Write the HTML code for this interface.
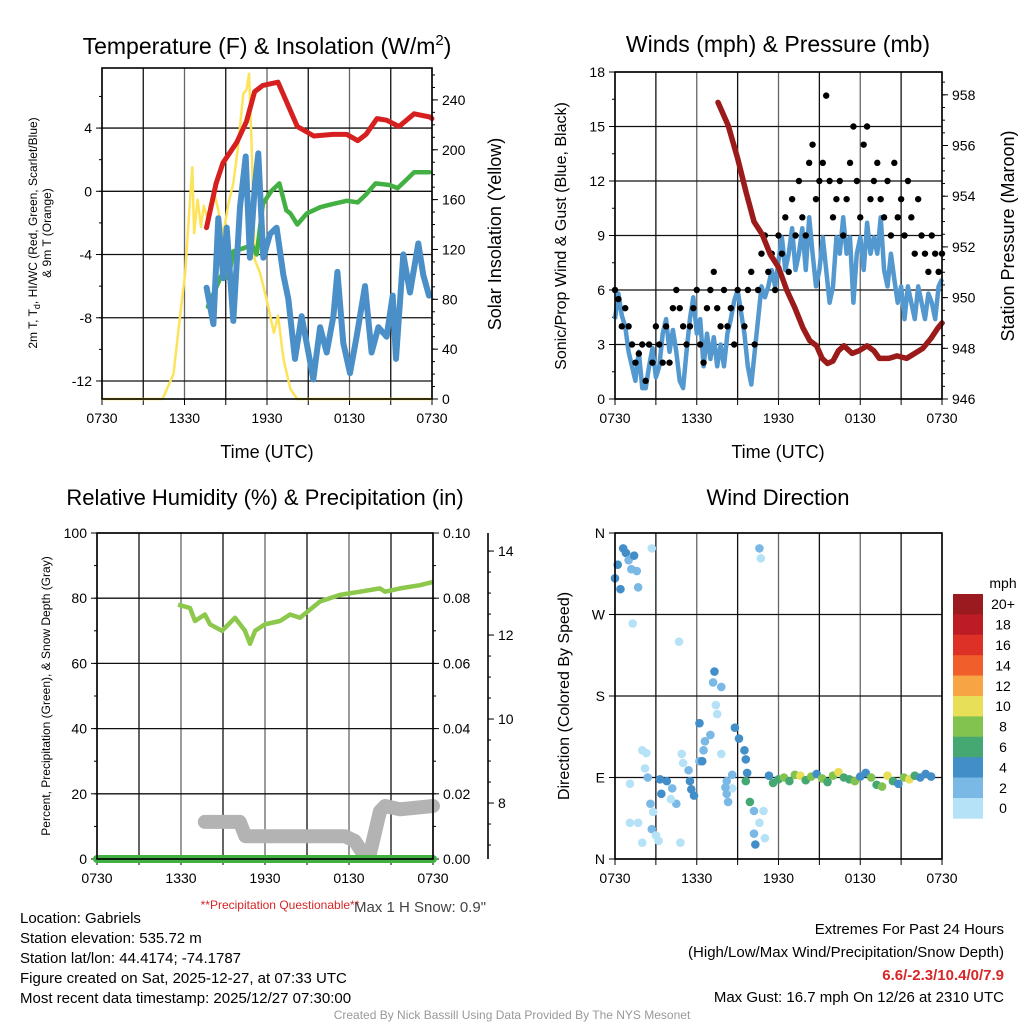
<!DOCTYPE html>
<html><head><meta charset="utf-8">
<style>
html,body{margin:0;padding:0;background:#fff;overflow:hidden;}
svg{display:block;font-family:"Liberation Sans",Arial,sans-serif;}
</style></head>
<body>
<svg id="chart" width="1024" height="1024" viewBox="0 0 1024 1024" xmlns="http://www.w3.org/2000/svg">
<rect x="0" y="0" width="1024" height="1024" fill="#fff"/>
<text x="267" y="54" font-size="23" text-anchor="middle">Temperature (F) &amp; Insolation (W/m<tspan dy="-9" font-size="15">2</tspan><tspan dy="9">)</tspan></text>
<text x="778" y="52" font-size="23" text-anchor="middle">Winds (mph) &amp; Pressure (mb)</text>
<text x="265" y="505" font-size="22" text-anchor="middle">Relative Humidity (%) &amp; Precipitation (in)</text>
<text x="778" y="505" font-size="22" text-anchor="middle">Wind Direction</text>

<text x="267" y="458" font-size="18" text-anchor="middle">Time (UTC)</text>
<text x="778" y="458" font-size="18" text-anchor="middle">Time (UTC)</text>
<text transform="translate(37,233) rotate(-90)" font-size="12" text-anchor="middle">2m T, T<tspan dy="3" font-size="9">d</tspan><tspan dy="-3">, HI/WC (Red, Green, Scarlet/Blue)</tspan></text>
<text transform="translate(51,233) rotate(-90)" font-size="12" text-anchor="middle">&amp; 9m T (Orange)</text>
<text transform="translate(501,234) rotate(-90)" font-size="18" text-anchor="middle">Solar Insolation (Yellow)</text>
<text transform="translate(566,236) rotate(-90)" font-size="16" text-anchor="middle">Sonic/Prop Wind &amp; Gust (Blue, Black)</text>
<text transform="translate(1014,236) rotate(-90)" font-size="18" text-anchor="middle">Station Pressure (Maroon)</text>
<text transform="translate(50,696) rotate(-90)" font-size="12" text-anchor="middle">Percent, Precipitation (Green), &amp; Snow Depth (Gray)</text>
<text transform="translate(569,696) rotate(-90)" font-size="16" text-anchor="middle">Direction (Colored By Speed)</text>

<g id="layers"></g>

<text x="280" y="909" font-size="12" fill="#d62728" text-anchor="middle">**Precipitation Questionable**</text>
<text x="420" y="912" font-size="15" fill="#444" text-anchor="middle">Max 1 H Snow: 0.9"</text>
<g font-size="15">
<text x="20" y="923">Location: Gabriels</text>
<text x="20" y="943">Station elevation: 535.72 m</text>
<text x="20" y="963">Station lat/lon: 44.4174; -74.1787</text>
<text x="20" y="983">Figure created on Sat, 2025-12-27, at 07:33 UTC</text>
<text x="20" y="1003">Most recent data timestamp: 2025/12/27 07:30:00</text>
</g>
<g font-size="15" text-anchor="end">
<text x="1004" y="934">Extremes For Past 24 Hours</text>
<text x="1004" y="957">(High/Low/Max Wind/Precipitation/Snow Depth)</text>
<text x="1004" y="980" fill="#d62728" font-weight="bold">6.6/-2.3/10.4/0/7.9</text>
<text x="1004" y="1002">Max Gust: 16.7 mph On 12/26 at 2310 UTC</text>
</g>
<text x="512" y="1019" font-size="12" fill="#999" text-anchor="middle">Created By Nick Bassill Using Data Provided By The NYS Mesonet</text>
</svg>
<script>
const xTickLabels = ["0730","1330","1930","0130","0730"];
const redT = [7.6,8.3,8.8,9.8,10.5,11.1,11.7,12.8,13.4,14.2,15.4,16.8,17.8,18.6,19.2,20.0,20.7,21.6,22.7,23.85,24];
const redV = [-2.3,0.5,1.8,3.1,4.4,6.3,6.7,6.9,5.7,4.1,3.5,3.6,3.6,3.2,3.6,4.6,4.5,4.1,4.9,4.7,4.6];
const greenT = [7.7,8.3,8.8,9.2,9.55,10.3,10.9,11.25,11.7,12.3,12.9,13.4,13.7,14.2,14.9,15.9,16.8,17.8,18.6,19.2,19.9,20.9,21.5,22.1,22.7,23.8];
const greenV = [-7.3,-6.1,-5.1,-5.5,-3.8,-3.6,-3.4,-4,-0.8,0,0.5,-1.2,-1.4,-2.1,-1.4,-1,-0.8,-0.6,-0.7,-0.2,0.5,0.4,0.2,0.7,1.2,1.2];
const blueT = [7.61,8.10,8.46,8.82,9.07,9.55,10.04,10.45,10.76,11.13,11.37,11.73,12.22,12.70,13.19,13.55,14.04,14.52,15.01,15.37,15.86,16.34,16.83,17.12,17.55,18.04,18.52,19.13,19.61,20.10,20.70,21.14,21.38,21.91,22.40,23.00,23.37,23.78];
const blueV = [-6.1,-8.4,-1.7,-5.5,-2.3,-8.2,-1,2.2,-4.2,0.5,2.4,-4.2,-2.7,-2.3,-5.3,-6.8,-10.6,-7.9,-10.2,-11.9,-8.6,-10.2,-7.9,-5.1,-9.6,-11.5,-9.2,-6,-10.2,-8.6,-9.2,-6.6,-10.6,-4,-6.4,-3.3,-5.3,-6.6];
const solarT = [0,4.4,4.6,5.2,5.7,6.05,6.4,6.57,6.7,6.95,7.2,7.4,7.7,8.1,8.45,8.8,9.2,9.55,9.9,10.28,10.5,10.7,10.9,11.1,11.5,11.97,12.5,12.8,13.2,13.7,14.2,24];
const solarV = [0,0,5,20,69,101,160,186,133,160,138,155,144,168,152,131,157,173,203,245,248,261,197,112,101,80,53,67,32,8,0,0];
const windV = [4.4,5.8,4.6,4.0,2.6,1.8,1.0,2.6,0.6,0.6,1.8,2.8,1.2,1.8,3.6,4.4,2.6,3.8,2.6,1.0,0.6,2.6,4.4,5.6,3.6,4.4,1.8,3.6,2.2,3.4,1.8,3.0,1.8,3.6,4.4,5.4,6.0,4.8,3.6,1.8,0.8,2.6,4.4,6.2,5.6,6.2,7.1,6.2,7.6,8.9,7.1,8.0,9.4,7.1,8.0,9.4,7.1,10.0,8.0,6.2,7.1,8.9,7.1,5.3,6.2,8.9,8.0,10.0,8.0,8.9,5.3,8.0,8.9,7.1,9.7,8.0,8.9,8.0,10.0,7.1,6.2,8.0,6.6,5.3,6.2,4.4,6.2,5.3,4.4,6.2,5.3,4.4,5.8,5.3,4.4,6.2,6.6];
const gustV = [6,5.5,4,5,4,3,2,2.5,3,1,3,2,4,3,2,4,2,5,6,5,4,3,4,5,6,3,2,5,6,7,5,4,6,4,5,3,6,5,4,6,7,3,6,8,9,7,8,6,9,8,10,7,11,9,12,10,9,13,14,11,12,13,16.7,12,10,11,12,9,11,13,15,12,10,14,15,11,12,13,11,10,12,9,13,10,11,9,12,10,8,11,9,8,7,9,8,7,8];
const presT = [7.56,8.3,9.0,9.6,10.2,10.8,11.4,12.0,12.6,13.2,13.8,14.3,14.8,15.2,15.6,16.0,16.4,16.8,17.4,17.9,18.5,19.0,19.4,20.1,20.7,21.4,22.0,22.6,23.2,23.7,24];
const presV = [957.7,956.8,955.5,954.2,953.0,952.5,951.7,951.2,950.3,949.6,948.8,948.3,948.1,947.6,947.4,947.5,947.9,948.1,947.8,947.9,948.1,947.9,947.6,947.6,947.7,947.6,947.8,948.0,948.4,948.8,949.0];
const rhT = [5.79,6.64,7.0,7.71,8.07,8.93,9.86,10.57,10.93,11.29,12.0,13.07,13.79,14.5,15.93,17.36,18.79,20.21,20.57,21.64,23.07,24];
const rhV = [78,77,73,75,72,70,74,70,66,70,72,73,75,74,79,81,82,83,82,83,84,85];
const snowT = [7.7,10.2,10.6,17.7,18.4,18.9,19.5,19.86,20.21,20.57,21.64,24];
const snowV = [7.55,7.55,7.21,7.21,7.1,6.85,6.8,7.3,7.8,7.93,7.85,7.93];
const dirT = [0.0,0.2,0.4,0.6,0.8,1.0,1.2,1.4,1.6,1.7,1.3,2.7,4.7,
 2.0,2.3,2.2,2.4,1.1,3.3,3.8,4.2,3.4,2.6,2.8,1.1,1.7,2.7,3.0,2.0,3.2,4.8,4.5,4.1,4.9,5.0,5.4,5.5,5.6,5.8,6.2,
 7.3,7.2,7.8,7.4,7.5,6.2,7.0,6.6,6.5,6.4,7.8,8.8,9.1,9.5,9.6,9.7,9.6,9.9,10.2,10.9,10.6,10.2,10.3,11.0,10.6,10.7,8.2,8.6,8.2,8.3,8.6,8.1,
 11.3,11.6,12.0,12.4,12.8,13.2,13.6,14.0,14.4,14.8,15.2,15.6,16.0,16.4,16.8,17.2,17.6,18.0,18.4,18.8,19.2,19.6,20.0,20.4,20.8,21.2,21.6,22.0,22.4,22.8,23.2,23.6,24.0];
const dirV = [310,325,298,343,338,330,320,335,318,300,260,343,240,
 120,117,100,90,83,88,86,78,72,61,52,40,40,33,26,18,20,18,61,66,116,106,98,86,77,70,108,
 207,195,190,170,160,150,137,130,120,108,116,145,133,120,110,95,86,63,53,53,40,28,16,23,343,332,86,93,72,63,78,79,
 92,84,88,90,86,93,92,87,91,94,89,85,92,96,90,88,86,91,95,90,82,80,92,86,83,90,88,92,90,94,91];
const dirS = [4.5,4.5,4.5,4.8,4.6,3.5,3,4.5,3,2.5,1,1,1,
 1,1,1,3,1,4,4.5,3,4,3,1,1,1,3,1,1,1,1,3,1,1,1,3,4.5,4,4.5,3,
 4,2,3,1,1,4.5,3,3,3,4.5,1,4.5,4,4.5,4.5,4.5,7,7,3,1,1,3,4,1,3,1,3,3,2.5,3,1,3,
 5,6,7,8,6,9,10,7,8,5,8,7,9,10,6,7,8,4,5,9,7,8,11,7,5,8,10,6,5,4,4];
const speedColors = ["#b6e2f7","#7ab8e5","#428ec8","#45a872","#82c24f","#e6df57","#f7a444","#ef5e2b","#dd3128","#bd1c27","#9b1a1f"];
const speedLabels = ["0","2","4","6","8","10","12","14","16","18","20+"];

const NS = "http://www.w3.org/2000/svg";
const layers = document.getElementById("layers");
function el(tag, attrs, parent){ const e=document.createElementNS(NS,tag); for(const k in attrs) e.setAttribute(k,attrs[k]); (parent||layers).appendChild(e); return e; }
function lin(d0,d1,r0,r1){ return v => r0 + (v-d0)/(d1-d0)*(r1-r0); }
function pathFrom(xs, ys, sx, sy){ const n=Math.min(xs.length,ys.length); let d=""; for(let i=0;i<n;i++){ d+=(i?"L":"M")+sx(xs[i]).toFixed(1)+","+sy(ys[i]).toFixed(1);} return d; }

function frame(p, g){
  for(let h=0; h<=24; h+=3){
    const x=p.sx(h);
    el("line",{x1:x,x2:x,y1:p.y0,y2:p.y1,stroke:(h%6===0?"#666":"#111"),"stroke-width":1.3},g);
    el("line",{x1:x,x2:x,y1:p.y1,y2:p.y1+6,stroke:"#000","stroke-width":1},g);
  }
  xTickLabels.forEach((lab,i)=>{
    const t=el("text",{x:p.sx(i*6),y:p.y1+24,"font-size":14,"text-anchor":"middle"},g);
    
    
    t.textContent=lab;
  });
}
function box(p,g){
  el("rect",{x:p.x0,y:p.y0,width:p.x1-p.x0,height:p.y1-p.y0,fill:"none",stroke:"#000","stroke-width":1.6},g);
}
function leftAxis(p, g, ticks, labels, sy, minor, grid){
  if(minor) minor.forEach(v=>el("line",{x1:p.x0-3,x2:p.x0,y1:sy(v),y2:sy(v),stroke:"#000","stroke-width":1},g));
  ticks.forEach((v,i)=>{
    const y=sy(v);
    if(grid) el("line",{x1:p.x0,x2:p.x1,y1:y,y2:y,stroke:"#111","stroke-width":1.3},g);
    el("line",{x1:p.x0-6,x2:p.x0,y1:y,y2:y,stroke:"#000","stroke-width":1},g);
    const t=el("text",{x:p.x0-10,y:y+5,"font-size":14,"text-anchor":"end"},g);
    
    
    t.textContent=labels[i];
  });
}
function rightAxis(x, g, ticks, labels, sy, minor, y0, y1, drawLine){
  if(drawLine) el("line",{x1:x,x2:x,y1:y0,y2:y1,stroke:"#000","stroke-width":1.6},g);
  if(minor) minor.forEach(v=>el("line",{x1:x,x2:x+3,y1:sy(v),y2:sy(v),stroke:"#000","stroke-width":1},g));
  ticks.forEach((v,i)=>{
    const y=sy(v);
    el("line",{x1:x,x2:x+6,y1:y,y2:y,stroke:"#000","stroke-width":1},g);
    const t=el("text",{x:x+10,y:y+5,"font-size":14},g);
    
    
    t.textContent=labels[i];
  });
}
function range(a,b,s){ const r=[]; for(let v=a; v<=b+1e-9; v+=s) r.push(+v.toFixed(3)); return r; }

{
  const p={x0:102,x1:432,y0:68,y1:399};
  p.sx=lin(0,24,p.x0,p.x1);
  const sy=lin(-13.14,7.8,p.y1,p.y0);
  const sr=lin(0,265.6,p.y1,p.y0);
  const g=el("g",{});
  
  
  frame(p,g);
  leftAxis(p,g,[4,0,-4,-8,-12],["4","0","-4","-8","-12"],sy,range(-12,6,2),true);
  rightAxis(p.x1,g,range(0,240,40),["0","40","80","120","160","200","240"],sr,range(0,260,10));
  const s=el("path",{d:pathFrom(solarT,solarV,p.sx,sr),fill:"none",stroke:"#fde35a","stroke-width":2.5,"stroke-linejoin":"round"},g);
  
  
  const r=el("path",{d:pathFrom(redT,redV,p.sx,sy),fill:"none",stroke:"#d62020","stroke-width":5,"stroke-linejoin":"round","stroke-linecap":"round"},g);
  
  
  const gr=el("path",{d:pathFrom(greenT,greenV,p.sx,sy),fill:"none",stroke:"#43b043","stroke-width":4.5,"stroke-linejoin":"round","stroke-linecap":"round"},g);
  
  
  const b=el("path",{d:pathFrom(blueT,blueV,p.sx,sy),fill:"none",stroke:"#4a8fc8","stroke-width":6,"stroke-linejoin":"round","stroke-linecap":"round"},g);
  
  
  box(p,g);
}
{
  const p={x0:615,x1:942,y0:72,y1:399};
  p.sx=lin(0,24,p.x0,p.x1);
  const sy=lin(0,18,p.y1,p.y0);
  const sp=lin(946,958.9,p.y1,p.y0);
  const g=el("g",{});
  
  
  frame(p,g);
  leftAxis(p,g,range(0,18,3),["0","3","6","9","12","15","18"],sy,range(0,18,1.5),true);
  rightAxis(p.x1,g,range(946,958,2),["946","948","950","952","954","956","958"],sp,range(946,958.5,0.5));
  const ts=windV.map((v,i)=>i*0.25);
  const w=el("path",{d:pathFrom(ts,windV,p.sx,sy),fill:"none",stroke:"#5498d0","stroke-width":4.5,"stroke-linejoin":"round"},g);
  
  
  gustV.forEach((v,i)=>{
    const t=i*0.25;
    if(!isFinite(v) || t>24) return;
    const c=el("circle",{cx:p.sx(t),cy:sy(v),r:3.2,fill:"#000"},g);
    
    
  });
  const pr=el("path",{d:pathFrom(presT,presV,p.sx,sp),fill:"none",stroke:"#9b1a1a","stroke-width":5.5,"stroke-linejoin":"round","stroke-linecap":"round"},g);
  
  
  box(p,g);
}
{
  const p={x0:97,x1:433,y0:533,y1:859};
  p.sx=lin(0,24,p.x0,p.x1);
  const sy=lin(0,100,p.y1,p.y0);
  const spz=lin(0,0.1,p.y1,p.y0);
  const ssn=lin(6.667,14.43,p.y1,p.y0);
  const g=el("g",{});
  
  
  frame(p,g);
  leftAxis(p,g,range(0,100,20),["0","20","40","60","80","100"],sy,range(0,100,10),true);
  rightAxis(p.x1,g,range(0,0.1,0.02),["0.00","0.02","0.04","0.06","0.08","0.10"],spz,range(0,0.1,0.01));
  rightAxis(488,g,[8,10,12,14],["8","10","12","14"],ssn,range(7,14,0.5),533,859,true);
  const sn=el("path",{d:pathFrom(snowT,snowV,p.sx,ssn),fill:"none",stroke:"#b3b3b3","stroke-width":14,"stroke-linejoin":"round","stroke-linecap":"round"},g);
  
  
  const pc=el("line",{x1:p.x0,x2:p.x1,y1:spz(0),y2:spz(0),stroke:"#43b043","stroke-width":8,"stroke-linecap":"round"},g);
  
  
  const rh=el("path",{d:pathFrom(rhT,rhV,p.sx,sy),fill:"none",stroke:"#8cc84b","stroke-width":4.5,"stroke-linejoin":"round"},g);
  
  
  box(p,g);
}
{
  const p={x0:615,x1:942,y0:533,y1:859};
  p.sx=lin(0,24,p.x0,p.x1);
  const sy=lin(0,360,p.y1,p.y0);
  const g=el("g",{});
  
  
  frame(p,g);
  leftAxis(p,g,[0,90,180,270,360],["N","E","S","W","N"],sy,null,true);
  const n=Math.min(dirT.length,dirV.length,dirS.length);
  for(let i=0;i<n;i++){
    const bin=Math.min(10,Math.floor(dirS[i]/2));
    const c=el("circle",{cx:p.sx(dirT[i]),cy:sy(dirV[i]),r:4.3,fill:speedColors[bin]},g);
    
    
  }
  box(p,g);
  const cb=el("g",{});
  
  
  const mt=el("text",{x:1003,y:588,"font-size":14,"text-anchor":"middle"},cb);
  
  
  mt.textContent="mph";
  const bh=224.4/11;
  for(let i=0;i<11;i++){
    const k=10-i;
    const y=594+i*bh;
    const r=el("rect",{x:953,y:y,width:30,height:bh+0.3,fill:speedColors[k]},cb);
    
    
    const t=el("text",{x:1003,y:y+bh/2+5,"font-size":14,"text-anchor":"middle"},cb);
    
    
    t.textContent=speedLabels[k];
  }
}
</script>
</body></html>
